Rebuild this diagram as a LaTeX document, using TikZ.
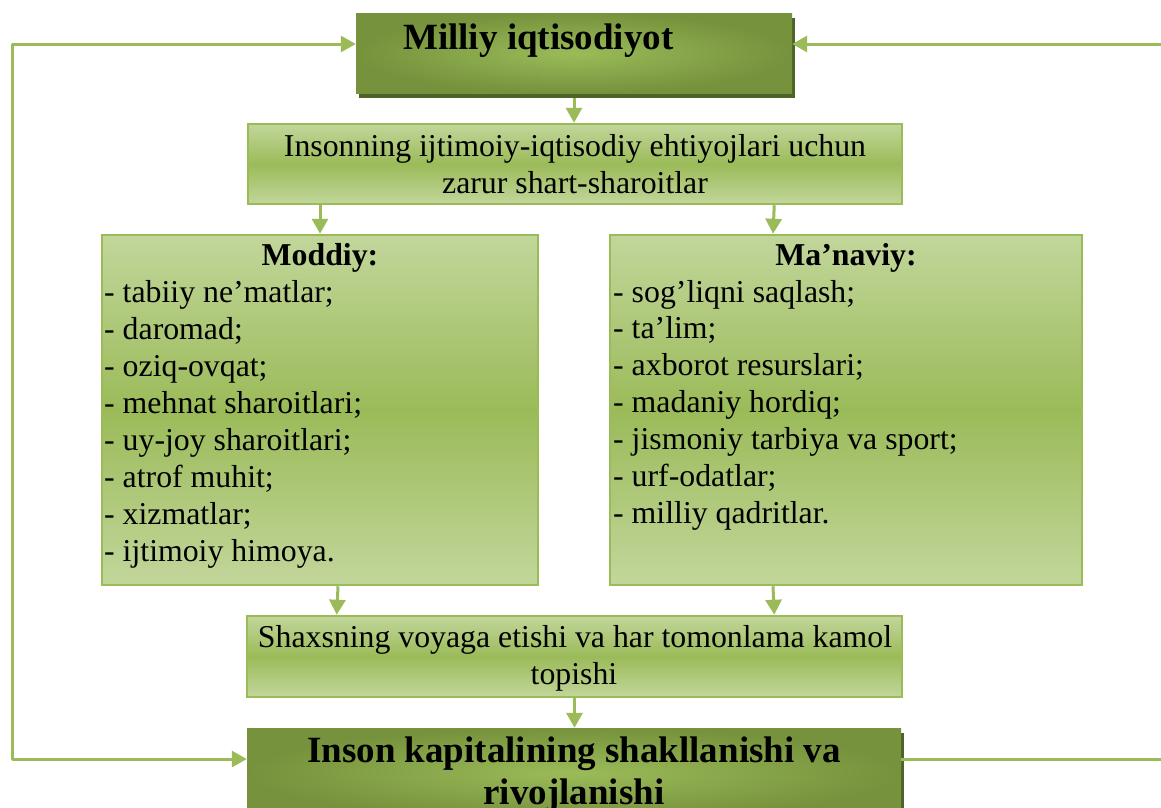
\documentclass[tikz,border=0pt]{standalone}
\usepackage{fontspec}
\setmainfont{Liberation Serif}
\usetikzlibrary{arrows.meta,shadows}
\definecolor{lite}{HTML}{C2D69B}
\definecolor{midg}{HTML}{9BBB59}
\definecolor{dark}{HTML}{76923C}
\definecolor{shad}{HTML}{4F6228}
\definecolor{linec}{HTML}{9BBB59}
\begin{document}
\begin{tikzpicture}[x=1pt,y=-1pt,
  lightbox/.style={draw=linec, line width=2.5pt, inner sep=0pt, top color=lite, bottom color=lite, middle color=midg},
  darkbox/.style={inner sep=0pt, inner color=midg, outer color=dark,
    drop shadow={shadow xshift=3pt, shadow yshift=-5pt, fill=shad, opacity=1}},
  txt/.style={font=\fontsize{31.8}{36.8}\selectfont, inner sep=0pt},
  btxt/.style={font=\bfseries\fontsize{31.8}{36.8}\selectfont, inner sep=0pt},
  big/.style={font=\bfseries\fontsize{37}{42.5}\selectfont, inner sep=0pt},
  tipx/.tip={Triangle[length=15pt,width=16pt]},
  conn/.style={draw=linec, line width=3pt, line join=round},
  arr/.style={conn, -tipx},
  ]
\useasboundingbox (0,0) rectangle (1161,807);
\clip (0,0) rectangle (1161,807);

% boxes
\node[darkbox, minimum width=436pt, minimum height=80pt] (top) at (574,53) {};
\node[big, anchor=base west] (toptxt) at (403,49) {Milliy iqtisodiyot};

\node[lightbox, minimum width=654pt, minimum height=80pt] (second) at (575,164) {};
\node[txt, anchor=base] (s1) at (575,156) {Insonning ijtimoiy-iqtisodiy ehtiyojlari uchun};
\node[txt, anchor=base] (s2) at (575,193) {zarur shart-sharoitlar};

\node[lightbox, minimum width=436pt, minimum height=350pt] (moddiy) at (320,410) {};
\node[btxt, anchor=base] (mh) at (320,265) {Moddiy:};
\foreach \t [count=\i] in {{- tabiiy ne’matlar;},{- daromad;},{- oziq-ovqat;},{- mehnat sharoitlari;},{- uy-joy sharoitlari;},{- atrof muhit;},{- xizmatlar;},{- ijtimoiy himoya.}}
  \node[txt, anchor=base west] (m\i) at (104,{302+37*(\i-1)}) {\t};

\node[lightbox, minimum width=472pt, minimum height=350pt] (manaviy) at (846,410) {};
\node[btxt, anchor=base] (nh) at (846,265) {Ma’naviy:};
\foreach \t [count=\i] in {{- sog’liqni saqlash;},{- ta’lim;},{- axborot resurslari;},{- madaniy hordiq;},{- jismoniy tarbiya va sport;},{- urf-odatlar;},{- milliy qadritlar.}}
  \node[txt, anchor=base west] (n\i) at (613,{302+36.9*(\i-1)}) {\t};

\node[lightbox, minimum width=655pt, minimum height=81pt] (third) at (574.5,656.5) {};
\node[txt, anchor=base] (t1) at (575,647) {Shaxsning voyaga etishi va har tomonlama kamol};
\node[txt, anchor=base] (t2) at (574,684) {topishi};

\node[darkbox, minimum width=654pt, minimum height=90pt] (bottom) at (574,773) {};
\node[big, anchor=base] (b1) at (574,762) {Inson kapitalining shakllanishi va};
\node[big, anchor=base] (b2) at (574,804.5) {rivojlanishi};

% connectors
\draw[arr] ([yshift=-5pt]top.south) -- (top.south |- second.north);
\draw[arr] (second.south -| moddiy.north) -- (moddiy.north);
\draw[arr] ([xshift=-129pt]second.south east) -- ([xshift=-73pt]manaviy.north);
\draw[arr] ([xshift=18pt]moddiy.south) -- ([xshift=91pt]third.north west);
\draw[arr] ([xshift=-73pt]manaviy.south) -- ([xshift=-129pt]third.north east);
\draw[arr] (third.south) -- (third.south |- bottom.north);

\coordinate (L) at (12,400);
\coordinate (R) at (1175,400);
\draw[conn, tipx-tipx] ([yshift=9pt]top.west) -| (L) |- ([yshift=14pt]bottom.west);
\draw[arr] ([yshift=14pt]bottom.east) -| (R) |- ([yshift=9pt]top.east);
\end{tikzpicture}
\end{document}
